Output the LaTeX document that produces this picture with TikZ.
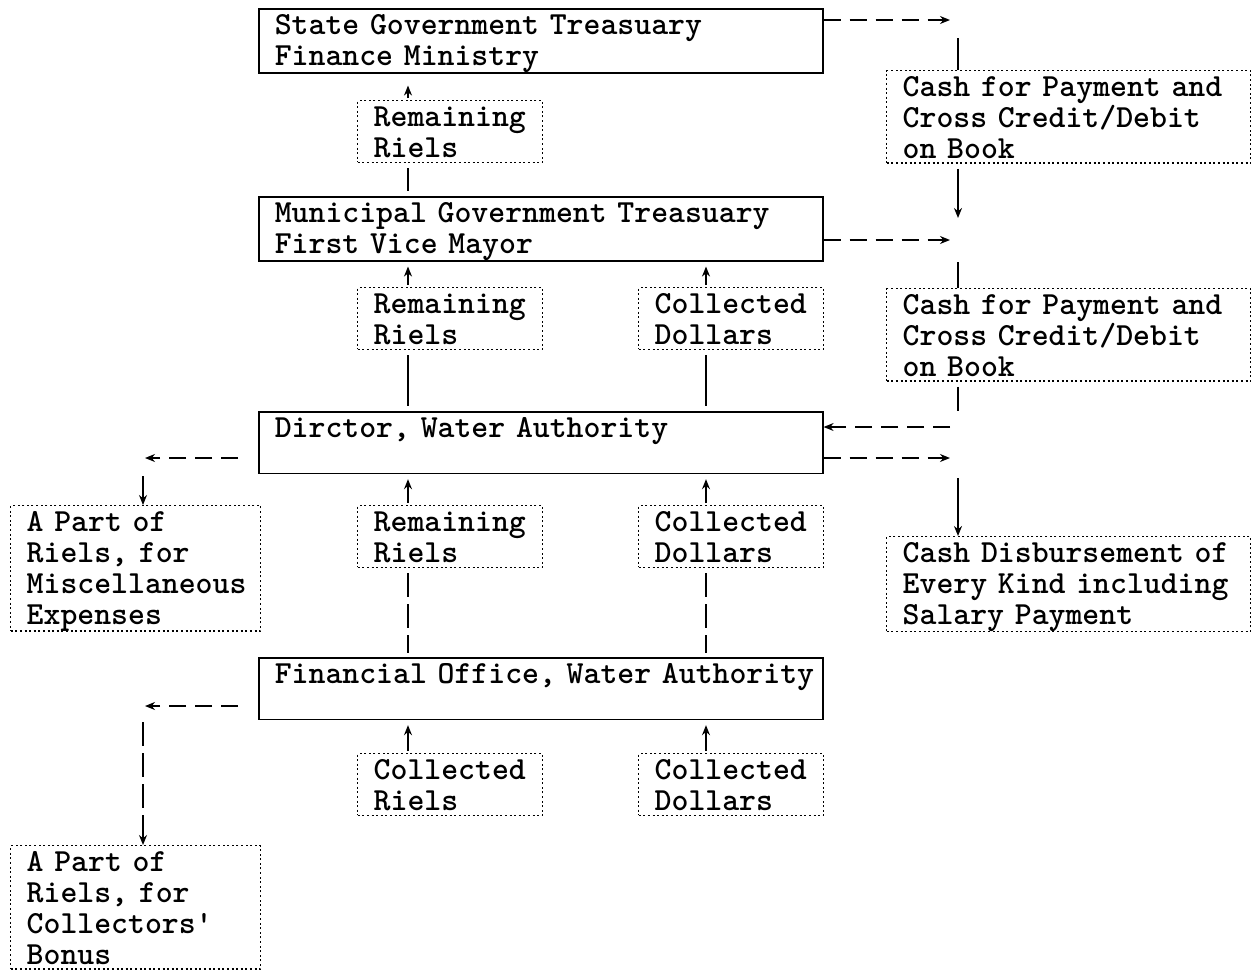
\documentclass[tikz,border=0pt]{standalone}
\usetikzlibrary{arrows.meta}
\newcommand\Ftop{\rule{0pt}{26pt}}
\newcommand\Fbot{\rule[-4.8pt]{0pt}{4.8pt}}
\begin{document}
\begin{tikzpicture}[x=1pt,y=-1pt,
  every node/.style={anchor=north west, inner xsep=16pt, inner ysep=0pt, align=left,
    font=\fontsize{32.2}{30.8}\selectfont\ttfamily\bfseries},
  solidbox/.style={draw, line width=1.6pt},
  dotbox/.style={draw, line width=1.4pt, dash pattern=on 2pt off 2.6pt},
  wide/.style={text width=532pt},
  small/.style={text width=153pt},
  side/.style={text width=218pt},
  cashw/.style={text width=332pt},
  arr/.style={line width=1.4pt, -{Stealth[length=10pt,width=8pt]}},
  conn/.style={line width=2pt},
  darr/.style={arr, dash pattern=on 17pt off 9pt},
  vdash/.style={line width=2pt, dash pattern=on 24pt off 7pt},
  up/.style={arr, shorten >=5pt, shorten <=2pt},
  link/.style={conn, shorten >=5pt, shorten <=5pt},
]
\useasboundingbox (0,0) rectangle (1254,970);

% main column
\node[solidbox,wide] (treas) at (258,8) {\Ftop State Government Treasuary\\Finance Ministry\Fbot};
\node[dotbox,small] (rr1) at (357,100) {\Ftop Remaining\\Riels\Fbot};
\node[solidbox,wide] (muni) at (258,196) {\Ftop Municipal Government Treasuary\\First Vice Mayor\Fbot};
\node[dotbox,small] (rr2) at (357,287) {\Ftop Remaining\\Riels\Fbot};
\node[dotbox,small] (cd2) at (638,287) {\Ftop Collected\\Dollars\Fbot};
\node[solidbox,wide] (dir) at (258,411) {\Ftop Dirctor, Water Authority\\\Fbot};
\node[dotbox,small] (rr3) at (357,505) {\Ftop Remaining\\Riels\Fbot};
\node[dotbox,small] (cd3) at (638,505) {\Ftop Collected\\Dollars\Fbot};
\node[solidbox,wide] (fin) at (258,657) {\Ftop\mbox{Financial Office, Water Authority}\\\Fbot};
\node[dotbox,small] (cr4) at (357,753) {\Ftop Collected\\Riels\Fbot};
\node[dotbox,small] (cd4) at (638,753) {\Ftop Collected\\Dollars\Fbot};

% left column
\node[dotbox,side] (misc) at (10,505) {\Ftop A Part of\\Riels, for\\\mbox{Miscellaneous}\\Expenses\Fbot};
\node[dotbox,side] (bonus) at (10,845) {\Ftop A Part of\\Riels, for\\Collectors'\\Bonus\Fbot};

% right column
\node[dotbox,cashw] (cash1) at (886,70) {\Ftop\mbox{Cash for Payment and}\\Cross Credit/Debit\\on Book\Fbot};
\node[dotbox,cashw] (cash2) at (886,288) {\Ftop\mbox{Cash for Payment and}\\Cross Credit/Debit\\on Book\Fbot};
\node[dotbox,cashw] (cashd) at (886,536) {\Ftop\mbox{Cash Disbursement of}\\\mbox{Every Kind including}\\Salary Payment\Fbot};

% helper coordinates
\coordinate (xa) at (408,0);
\coordinate (xb) at (706,0);

% middle connectors
\draw[up, shorten >=12pt] (rr1.north -| xa) -- (treas.south -| xa);
\draw[link] (rr1.south -| xa) -- (muni.north -| xa);
\draw[up] (rr2.north -| xa) -- (muni.south -| xa);
\draw[up] (cd2.north -| xb) -- (muni.south -| xb);
\draw[link] (rr2.south -| xa) -- (dir.north -| xa);
\draw[link] (cd2.south -| xb) -- (dir.north -| xb);
\draw[up] (rr3.north -| xa) -- (dir.south -| xa);
\draw[up] (cd3.north -| xb) -- (dir.south -| xb);
\draw[vdash, shorten >=4pt, shorten <=5pt] (rr3.south -| xa) -- (fin.north -| xa);
\draw[vdash, shorten >=4pt, shorten <=5pt] (cd3.south -| xb) -- (fin.north -| xb);
\draw[up] (cr4.north -| xa) -- (fin.south -| xa);
\draw[up] (cd4.north -| xb) -- (fin.south -| xb);

% right connectors
\coordinate (t1) at (950,20);
\draw[darr] (treas.east |- t1) -- (t1);
\coordinate (v1) at (958,38);
\draw[conn] (v1) -- (v1 |- cash1.north);
\coordinate (d1) at (958,218);
\draw[arr, line width=2pt, shorten <=5pt] (cash1.south -| d1) -- (d1);
\coordinate (t2) at (950,240);
\draw[darr] (muni.east |- t2) -- (t2);
\coordinate (v2) at (958,262);
\draw[conn] (v2) -- (v2 |- cash2.north);
\coordinate (v3) at (958,411);
\draw[conn, shorten <=5pt] (cash2.south -| v3) -- (v3);
\coordinate (t3) at (950,427);
\draw[darr] (t3) -- (dir.east |- t3);
\coordinate (t4) at (950,458);
\draw[darr] (dir.east |- t4) -- (t4);
\coordinate (v4) at (958,478);
\draw[arr, line width=2pt] (v4) -- (v4 |- cashd.north);

% left connectors
\coordinate (l1) at (145,458);
\draw[darr, shorten <=20pt] (dir.west |- l1) -- (l1);
\coordinate (m1) at (143,476);
\draw[arr] (m1) -- (m1 |- misc.north);
\coordinate (l2) at (145,706);
\draw[darr, shorten <=20pt] (fin.west |- l2) -- (l2);
\coordinate (m2) at (143,722);
\draw[arr, vdash] (m2) -- (m2 |- bonus.north);
\end{tikzpicture}
\end{document}
